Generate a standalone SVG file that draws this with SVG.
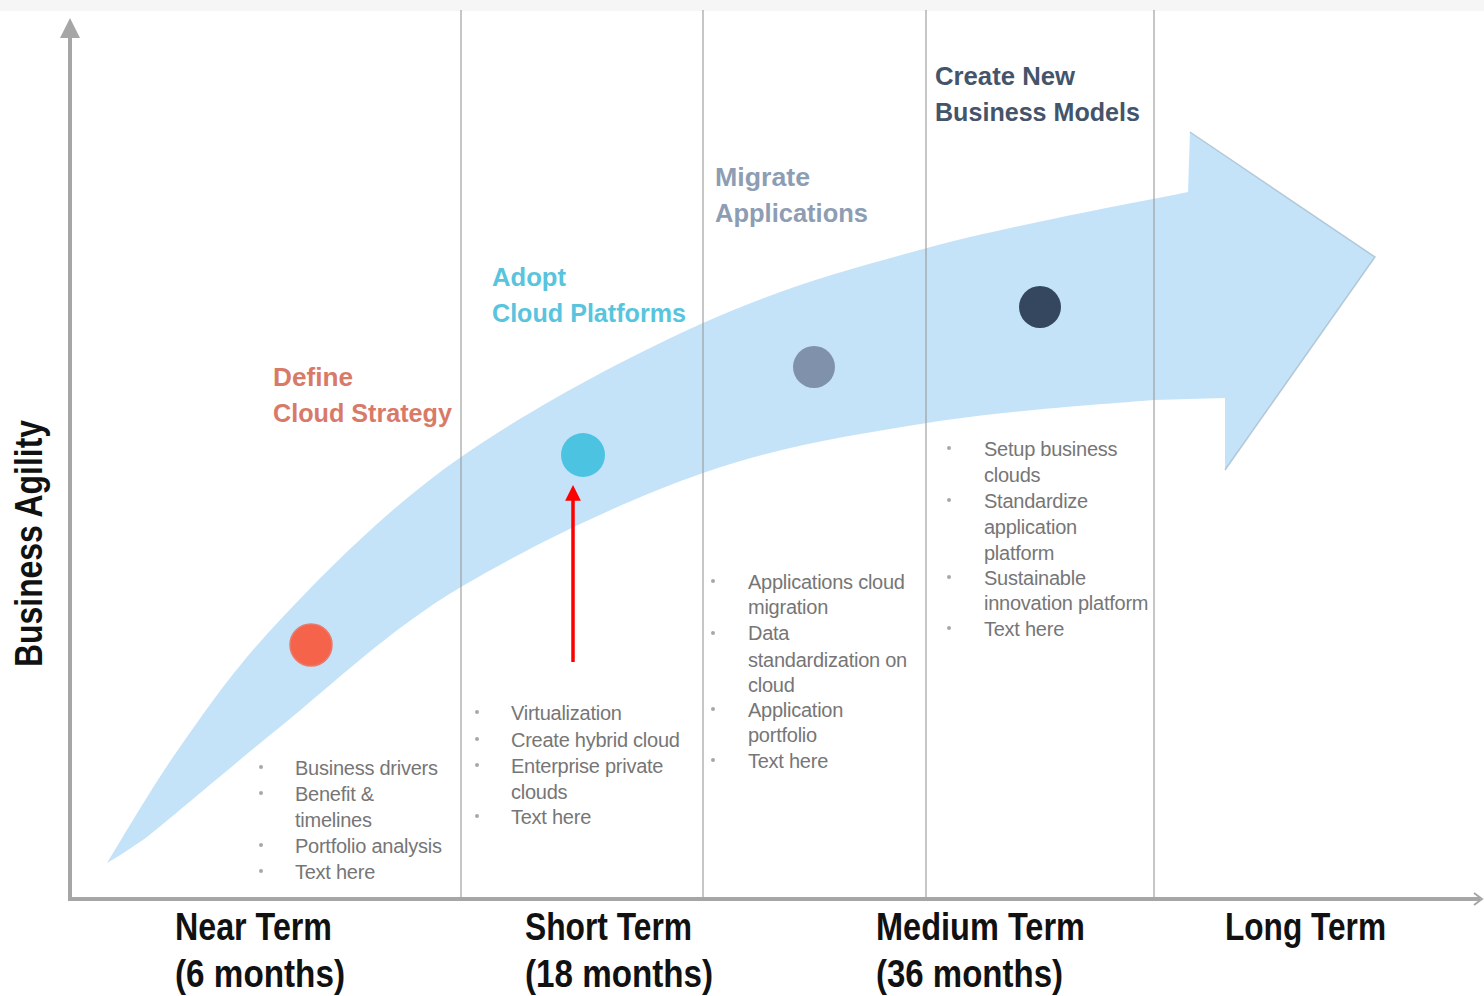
<svg xmlns="http://www.w3.org/2000/svg" width="1484" height="996" viewBox="0 0 1484 996">
<defs>
<marker id="axisHead" markerWidth="5" markerHeight="5" refX="4" refY="2.5" orient="auto" markerUnits="strokeWidth">
<path d="M0,0 L5,2.5 L0,5 Z" fill="#a6a6a6"/>
</marker>
<marker id="redHead" markerWidth="4.5" markerHeight="4.5" refX="0.5" refY="2.25" orient="auto" markerUnits="strokeWidth">
<path d="M0,0 L4.5,2.25 L0,4.5 Z" fill="#ff0000"/>
</marker>
</defs>
<style>
.title{font-family:"Liberation Sans",Arial,sans-serif;font-weight:bold;font-size:26px}
.item{font-family:"Liberation Sans",Arial,sans-serif;font-size:20px;fill:#767676;letter-spacing:-0.25px}
.term{font-family:"Liberation Sans",Arial,sans-serif;font-weight:bold;font-size:38px;fill:#111111}
.vline{stroke:#9a9a9a;stroke-width:1.5;stroke-opacity:0.75}
.bul{fill:#a8a8a8}
</style>
<rect x="0" y="0" width="1484" height="996" fill="#ffffff"/>
<rect x="0" y="0" width="1484" height="11" fill="#f6f6f6"/>

<g id="band">
<path d="M107,863 C119,844 151,788 180,747 C209,706 233,670 280,620 C327,570 390,506 461,457 C532,408 625,358 703,323 C781,288 846,270 927,248 C1008,226 1144,201 1188,192 L1190,132 L1375,257 L1225,470 L1225,398 L1154,400 C1104,404 1002,411 927,423 C852,435 781,446 703,473 C625,500 532,545 461,587 C390,629 332,685 280,727 C228,769 176,814 147,837 C130,849 114,859 107,863 Z" fill="#c5e3f8"/>
<path d="M1190,132 L1375,257 L1225,470" fill="none" stroke="#9fb6c8" stroke-width="1.5" stroke-opacity="0.7"/>
</g>

<g id="gridlines">
<line class="vline" x1="461" y1="10" x2="461" y2="898"/>
<line class="vline" x1="703" y1="10" x2="703" y2="898"/>
<line class="vline" x1="926" y1="10" x2="926" y2="898"/>
<line class="vline" x1="1154" y1="10" x2="1154" y2="898"/>
</g>

<g id="axes">
<line x1="70" y1="900" x2="70" y2="22" stroke="#a6a6a6" stroke-width="4" marker-end="url(#axisHead)"/>
<line x1="68" y1="899" x2="1480" y2="899" stroke="#a6a6a6" stroke-width="4"/>
<path d="M1474,893 L1482,899 L1474,905" fill="none" stroke="#a6a6a6" stroke-width="2"/>
<text transform="translate(42,667) rotate(-90)" class="term" font-size="34" textLength="247" lengthAdjust="spacingAndGlyphs">Business Agility</text>
</g>

<g id="stage1">
<circle cx="311" cy="645" r="21" fill="#f4634a" stroke="#ea7a6a" stroke-width="1.5"/>
<text class="title" fill="#d97a68" x="273" y="386" textLength="80" lengthAdjust="spacingAndGlyphs">Define</text>
<text class="title" fill="#d97a68" x="273" y="422" textLength="179" lengthAdjust="spacingAndGlyphs">Cloud Strategy</text>
<circle class="bul" cx="261" cy="767" r="2"/>
<circle class="bul" cx="261" cy="793" r="2"/>
<circle class="bul" cx="261" cy="845" r="2"/>
<circle class="bul" cx="261" cy="871" r="2"/>
<text class="item" x="295" y="775">Business drivers</text>
<text class="item" x="295" y="801">Benefit &amp;</text>
<text class="item" x="295" y="827">timelines</text>
<text class="item" x="295" y="853">Portfolio analysis</text>
<text class="item" x="295" y="879">Text here</text>
</g>

<g id="stage2">
<circle cx="583" cy="455" r="22" fill="#4cc4e1"/>
<text class="title" fill="#58c4dd" x="492" y="286" textLength="74" lengthAdjust="spacingAndGlyphs">Adopt</text>
<text class="title" fill="#58c4dd" x="492" y="322" textLength="194" lengthAdjust="spacingAndGlyphs">Cloud Platforms</text>
<circle class="bul" cx="477" cy="712" r="2"/>
<circle class="bul" cx="477" cy="739" r="2"/>
<circle class="bul" cx="477" cy="765" r="2"/>
<circle class="bul" cx="477" cy="816" r="2"/>
<text class="item" x="511" y="720">Virtualization</text>
<text class="item" x="511" y="747">Create hybrid cloud</text>
<text class="item" x="511" y="773">Enterprise private</text>
<text class="item" x="511" y="799">clouds</text>
<text class="item" x="511" y="824">Text here</text>
</g>

<g id="stage3">
<circle cx="814" cy="367" r="21" fill="#8092ab"/>
<text class="title" fill="#8d9db3" x="715" y="186" textLength="95" lengthAdjust="spacingAndGlyphs">Migrate</text>
<text class="title" fill="#8d9db3" x="715" y="222" textLength="153" lengthAdjust="spacingAndGlyphs">Applications</text>
<circle class="bul" cx="713" cy="581" r="2"/>
<circle class="bul" cx="713" cy="633" r="2"/>
<circle class="bul" cx="713" cy="709" r="2"/>
<circle class="bul" cx="713" cy="760" r="2"/>
<text class="item" x="748" y="589">Applications cloud</text>
<text class="item" x="748" y="614">migration</text>
<text class="item" x="748" y="640">Data</text>
<text class="item" x="748" y="667">standardization on</text>
<text class="item" x="748" y="692">cloud</text>
<text class="item" x="748" y="717">Application</text>
<text class="item" x="748" y="742">portfolio</text>
<text class="item" x="748" y="768">Text here</text>
</g>

<g id="stage4">
<circle cx="1040" cy="307" r="21" fill="#34475f"/>
<text class="title" fill="#44546a" x="935" y="85" textLength="140" lengthAdjust="spacingAndGlyphs">Create New</text>
<text class="title" fill="#44546a" x="935" y="121" textLength="205" lengthAdjust="spacingAndGlyphs">Business Models</text>
<circle class="bul" cx="949" cy="448" r="2"/>
<circle class="bul" cx="949" cy="500" r="2"/>
<circle class="bul" cx="949" cy="577" r="2"/>
<circle class="bul" cx="949" cy="628" r="2"/>
<text class="item" x="984" y="456">Setup business</text>
<text class="item" x="984" y="482">clouds</text>
<text class="item" x="984" y="508">Standardize</text>
<text class="item" x="984" y="534">application</text>
<text class="item" x="984" y="560">platform</text>
<text class="item" x="984" y="585">Sustainable</text>
<text class="item" x="984" y="610">innovation platform</text>
<text class="item" x="984" y="636">Text here</text>
</g>

<g id="terms">
<text class="term" x="175" y="940" textLength="157" lengthAdjust="spacingAndGlyphs">Near Term</text>
<text class="term" x="175" y="987" textLength="170" lengthAdjust="spacingAndGlyphs">(6 months)</text>
<text class="term" x="525" y="940" textLength="167" lengthAdjust="spacingAndGlyphs">Short Term</text>
<text class="term" x="525" y="987" textLength="188" lengthAdjust="spacingAndGlyphs">(18 months)</text>
<text class="term" x="876" y="940" textLength="209" lengthAdjust="spacingAndGlyphs">Medium Term</text>
<text class="term" x="876" y="987" textLength="187" lengthAdjust="spacingAndGlyphs">(36 months)</text>
<text class="term" x="1225" y="940" textLength="161" lengthAdjust="spacingAndGlyphs">Long Term</text>
</g>

<g id="connectors">
<line x1="573" y1="662" x2="573" y2="499" stroke="#ff0000" stroke-width="3.5" marker-end="url(#redHead)"/>
</g>
</svg>
